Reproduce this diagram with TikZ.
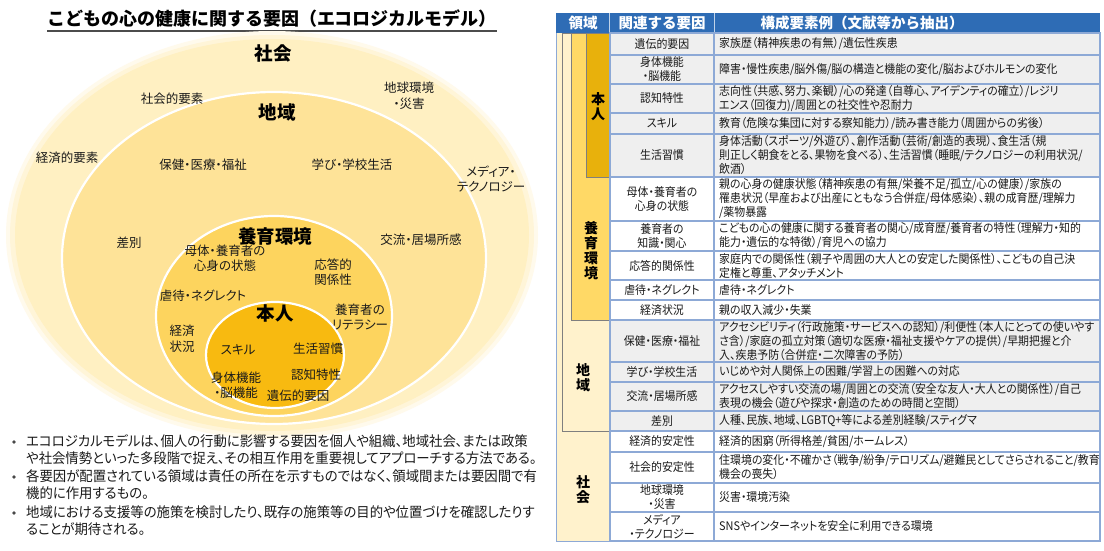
\documentclass[tikz,border=0pt]{standalone}
\usepackage{fontspec}
\setmainfont{Noto Sans CJK JP}[RawFeature=+palt]
\newfontfamily\jpfull{Noto Sans CJK JP}
\newfontfamily\jpbul{Noto Sans CJK JP}[RawFeature=+palt, FakeStretch=0.955]
\newfontfamily\jptab{Noto Sans CJK JP}[RawFeature=+palt, FakeStretch=0.925]
\definecolor{soc}{HTML}{FFF0C2}
\definecolor{socglowA}{HTML}{FFF5D8}
\definecolor{socglowB}{HTML}{FFFAEC}
\definecolor{reg}{HTML}{FEE398}
\definecolor{env}{HTML}{FDD45E}
\definecolor{selfc}{HTML}{F8BA10}
\definecolor{hdr}{HTML}{2E6CB5}
\definecolor{gridc}{HTML}{8DA9D6}
\definecolor{rowg}{HTML}{EFEFEF}
\definecolor{cream}{HTML}{FFF2CC}
\definecolor{yel}{HTML}{FFD966}
\definecolor{gold}{HTML}{E8B10C}
\definecolor{boxln}{HTML}{7F7F7F}
\definecolor{txt}{HTML}{1A1A1A}
\tikzset{
  lbl/.style={font=\fontsize{12.5}{15.5}\selectfont, align=center, inner sep=0, text=txt},
  big/.style={font=\bfseries\fontsize{18.5}{20}\selectfont, inner sep=0, text=black},
  factor/.style={font=\jptab\fontsize{11.8}{14}\selectfont, align=center, inner sep=0, text=txt},
  content/.style={font=\jptab\fontsize{11.8}{14}\selectfont, align=left, anchor=west, inner sep=0, text=txt},
  grid/.style={draw=gridc, line width=1.1},
  vlab/.style={font=\bfseries\fontsize{14}{15}\selectfont, align=center, inner sep=0, text=black},
  hlab/.style={font=\jpfull\bfseries\fontsize{14.5}{16}\selectfont, inner sep=0, text=white},
  bul/.style={font=\jpbul\fontsize{14}{17.6}\selectfont, align=left, anchor=north west, inner sep=0, text=txt},
  bdot/.style={circle, fill=txt!80, inner sep=0, minimum size=3.6pt},
  ring/.style={draw=white, line width=2.2},
}
\newcommand\mkrow[6]{%
  \fill[#4] (610,#2) rectangle (1100,#3);
  \node[factor] (f#1) at (662,{(#2+#3)/2}) {#5};
  \node[content] (c#1) at (719,{(#2+#3)/2}) {#6};
  \draw[grid] (610,#2) rectangle (714,#3) (714,#2) rectangle (1100,#3);
}
\begin{document}
\begin{tikzpicture}[x=1pt,y=-1pt]
\useasboundingbox (0,0) rectangle (1104,551);
\fill[white] (0,0) rectangle (1104,551);

% ---------- title ----------
\node[font=\jpfull\bfseries\fontsize{18}{20}\selectfont, inner sep=0] (title) at (272,19) {こどもの心の健康に関する要因（エコロジカルモデル）};
\draw[line width=1.3, black!70] (47,31) -- (497,31);

% ---------- ellipses ----------
\fill[socglowB] (272,235) ellipse [x radius=266, y radius=204];
\fill[socglowA] (272,235) ellipse [x radius=262, y radius=200];
\fill[soc] (272,235) ellipse [x radius=257, y radius=196];
\fill[reg] (274,258) ellipse [x radius=212, y radius=166];
\draw[ring] (274,258) ellipse [x radius=212, y radius=166];
\fill[env] (274,316) ellipse [x radius=118, y radius=100];
\draw[ring] (274,316) ellipse [x radius=118, y radius=100];
\fill[selfc] (275,355) ellipse [x radius=69, y radius=53];
\draw[ring] (275,355) ellipse [x radius=69, y radius=53];

% ---------- big labels ----------
\node[big] (shakai) at (273,53) {社会};
\node[big] (chiiki) at (277,112) {地域};
\node[big] (yoiku) at (275,236) {養育環境};
\node[big] (honnin) at (275,313) {本人};

% ---------- factor labels ----------
\node[lbl] (shakaiteki) at (172,99) {社会的要素};
\node[lbl] (chikyu) at (409,96) {地球環境\\・災害};
\node[lbl] (keizaiteki) at (67,158) {経済的要素};
\node[lbl] (hoken) at (203,165) {保健・医療・福祉};
\node[lbl] (manabi) at (352,165) {学び・学校生活};
\node[lbl] (media) at (491,179) {メディア・\\テクノロジー};
\node[lbl] (sabetsu) at (129,243) {差別};
\node[lbl] (koryu) at (421,240) {交流・居場所感};
\node[lbl] (botai) at (225,258) {母体・養育者の\\心身の状態};
\node[lbl] (outou) at (333,272) {応答的\\関係性};
\node[lbl] (gyakutai) at (203,296) {虐待・ネグレクト};
\node[lbl] (literacy) at (360,317) {養育者の\\リテラシー};
\node[lbl] (keizai) at (182,339) {経済\\状況};
\node[lbl] (skill) at (238,350) {スキル};
\node[lbl] (seikatsu) at (318,349) {生活習慣};
\node[lbl] (shintai) at (236,385) {身体機能\\・脳機能};
\node[lbl] (ninchi) at (316,375) {認知特性};
\node[lbl] (iden) at (298,396) {遺伝的要因};

% ---------- bullets ----------
\node[bul] (t1) at (26,434) {エコロジカルモデルは、個人の行動に影響する要因を個人や組織、地域社会、または政策\\や社会情勢といった多段階で捉え、その相互作用を重要視してアプローチする方法である。};
\node[bdot] (b1) at (14,442) {};
\node[bul] (t2) at (26,469) {各要因が配置されている領域は責任の所在を示すものではなく、領域間または要因間で有\\機的に作用するもの。};
\node[bdot] (b2) at (14,477) {};
\node[bul] (t3) at (26,505) {地域における支援等の施策を検討したり、既存の施策等の目的や位置づけを確認したりす\\ることが期待される。};
\node[bdot] (b3) at (14,513) {};

% ---------- table: domain column ----------
\filldraw[fill=cream, draw=gridc, line width=1] (556,33) rectangle (609,541);
\filldraw[fill=cream, draw=boxln, line width=0.8] (562,33) rectangle (609,431);
\filldraw[fill=yel, draw=boxln, line width=0.8] (571,33) rectangle (609,320);
\filldraw[fill=gold, draw=boxln, line width=0.8] (586,33) rectangle (609,177);
\node[vlab] (vhonnin) at (598,107) {本\\人};
\node[vlab] (vyoiku) at (591,251) {養\\育\\環\\境};
\node[vlab] (vchiiki) at (583,378) {地\\域};
\node[vlab] (vshakai) at (583,490) {社\\会};

% ---------- table: header ----------
\fill[hdr] (556,13) rectangle (1100,33);
\draw[white!70!hdr, line width=1] (609.5,13) -- (609.5,33) (714,13) -- (714,33);
\node[hlab] (h1) at (583,23) {領域};
\node[hlab] (h2) at (662,23) {関連する要因};
\node[hlab] (h3) at (862,23) {構成要素例（文献等から抽出）};

% ---------- table: rows ----------
\mkrow{1}{33}{55}{rowg}{遺伝的要因}{家族歴（精神疾患の有無）/遺伝性疾患}
\mkrow{2}{55}{84}{rowg}{身体機能\\・脳機能}{障害・慢性疾患/脳外傷/脳の構造と機能の変化/脳およびホルモンの変化}
\mkrow{3}{84}{113}{rowg}{認知特性}{志向性（共感、努力、楽観）/心の発達（自尊心、アイデンティの確立）/レジリ\\エンス（回復力)/周囲との社交性や忍耐力}
\mkrow{4}{113}{134}{rowg}{スキル}{教育（危険な集団に対する察知能力）/読み書き能力（周囲からの劣後）}
\mkrow{5}{134}{177}{rowg}{生活習慣}{身体活動（スポーツ/外遊び）、創作活動（芸術/創造的表現）、食生活（規\\則正しく朝食をとる、果物を食べる）、生活習慣（睡眠/テクノロジーの利用状況/\\飲酒）}
\mkrow{6}{177}{221}{white}{母体・養育者の\\心身の状態}{親の心身の健康状態（精神疾患の有無/栄養不足/孤立/心の健康）/家族の\\罹患状況（早産および出産にともなう合併症/母体感染）、親の成育歴/理解力\\/薬物暴露}
\mkrow{7}{221}{251}{white}{養育者の\\知識・関心}{こどもの心の健康に関する養育者の関心/成育歴/養育者の特性（理解力・知的\\能力・遺伝的な特徴）/育児への協力}
\mkrow{8}{251}{280}{white}{応答的関係性}{家庭内での関係性（親子や周囲の大人との安定した関係性）、こどもの自己決\\定権と尊重、アタッチメント}
\mkrow{9}{280}{300}{white}{虐待・ネグレクト}{虐待・ネグレクト}
\mkrow{10}{300}{320}{white}{経済状況}{親の収入減少・失業}
\mkrow{11}{320}{362}{rowg}{保健・医療・福祉}{アクセシビリティ（行政施策・サービスへの認知）/利便性（本人にとっての使いやす\\さ含）/家庭の孤立対策（適切な医療・福祉支援やケアの提供）/早期把握と介\\入、疾患予防（合併症・二次障害の予防）}
\mkrow{12}{362}{382}{rowg}{学び・学校生活}{いじめや対人関係上の困難/学習上の困難への対応}
\mkrow{13}{382}{411}{rowg}{交流・居場所感}{アクセスしやすい交流の場/周囲との交流（安全な友人・大人との関係性）/自己\\表現の機会（遊びや探求・創造のための時間と空間）}
\mkrow{14}{411}{431}{rowg}{差別}{人種、民族、地域、LGBTQ+等による差別経験/スティグマ}
\mkrow{15}{431}{452}{white}{経済的安定性}{経済的困窮（所得格差/貧困/ホームレス）}
\mkrow{16}{452}{483}{white}{社会的安定性}{住環境の変化・不確かさ（戦争/紛争/テロリズム/避難民としてさらされること/教育\\機会の喪失）}
\mkrow{17}{483}{512}{white}{地球環境\\・災害}{災害・環境汚染}
\mkrow{18}{512}{541}{white}{メディア\\・テクノロジー}{SNSやインターネットを安全に利用できる環境}
\end{tikzpicture}
\end{document}
